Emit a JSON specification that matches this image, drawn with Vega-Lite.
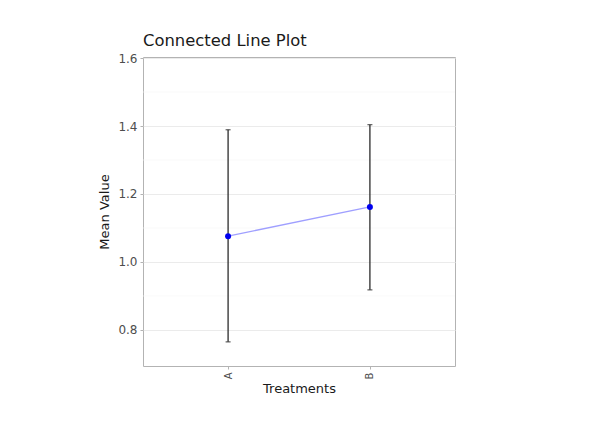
{
  "$schema": "https://vega.github.io/schema/vega-lite/v6.json",
  "autosize": "none",
  "width": 312,
  "height": 309,
  "padding": {"left": 143, "top": 57, "right": 152, "bottom": 71},
  "background": "white",
  "title": {"text": "Connected Line Plot", "anchor": "start", "frame": "group", "font": "DejaVu Sans", "fontSize": 16.4, "fontWeight": "normal", "color": "#1a1a1a", "offset": 3},
  "config": {"view": {"stroke": "#b3b3b3", "strokeWidth": 1}},
  "data": {"values": [
    {"treatment": "A", "mean": 1.076, "lower": 0.765, "upper": 1.389},
    {"treatment": "B", "mean": 1.162, "lower": 0.918, "upper": 1.404}
  ]},
  "encoding": {
    "x": {"field": "treatment", "type": "nominal", "title": "Treatments",
      "scale": {"type": "point", "padding": 0.6},
      "axis": {"labelAngle": -90, "labelAlign": "right", "labelBaseline": "middle", "labelFont": "DejaVu Sans", "labelFontSize": 10, "labelColor": "#4d4d4d", "titleFont": "DejaVu Sans", "titleFontSize": 13, "titleFontWeight": "normal", "titleColor": "#1a1a1a", "titlePadding": 4, "tickColor": "#b3b3b3", "tickSize": 3, "labelPadding": 3, "domain": false, "gridColor": "#ebebeb", "gridWidth": 1}}
  },
  "layer": [
    {
      "mark": {"type": "rule", "color": "#f5f5f5", "strokeWidth": 0.6},
      "data": {"values": [{"v": 0.9}, {"v": 1.1}, {"v": 1.3}, {"v": 1.5}]},
      "encoding": {"y": {"field": "v", "type": "quantitative"}, "x": null}
    },
    {
      "mark": {"type": "rule", "color": "#2b2b2b", "strokeWidth": 1.3},
      "encoding": {
        "y": {"field": "lower", "type": "quantitative", "title": "Mean Value",
          "scale": {"domain": [0.694, 1.603], "nice": false, "zero": false},
          "axis": {"values": [0.8, 1.0, 1.2, 1.4, 1.6], "format": ".1f", "labelFont": "DejaVu Sans", "labelFontSize": 12, "labelColor": "#4d4d4d", "titleFont": "DejaVu Sans", "titleFontSize": 13, "titleFontWeight": "normal", "titleColor": "#1a1a1a", "titlePadding": 6, "tickColor": "#b3b3b3", "tickSize": 3, "labelPadding": 3, "domain": false, "gridColor": "#ebebeb", "gridWidth": 1}},
        "y2": {"field": "upper"}
      }
    },
    {
      "mark": {"type": "tick", "color": "#2b2b2b", "thickness": 1.3, "size": 5, "orient": "horizontal"},
      "encoding": {"y": {"field": "lower", "type": "quantitative"}}
    },
    {
      "mark": {"type": "tick", "color": "#2b2b2b", "thickness": 1.3, "size": 5, "orient": "horizontal"},
      "encoding": {"y": {"field": "upper", "type": "quantitative"}}
    },
    {
      "mark": {"type": "line", "color": "#9f9fff", "strokeWidth": 1.4},
      "encoding": {"y": {"field": "mean", "type": "quantitative"}}
    },
    {
      "mark": {"type": "point", "filled": true, "color": "#0000ee", "opacity": 1, "size": 36},
      "encoding": {"y": {"field": "mean", "type": "quantitative"}}
    }
  ]
}
